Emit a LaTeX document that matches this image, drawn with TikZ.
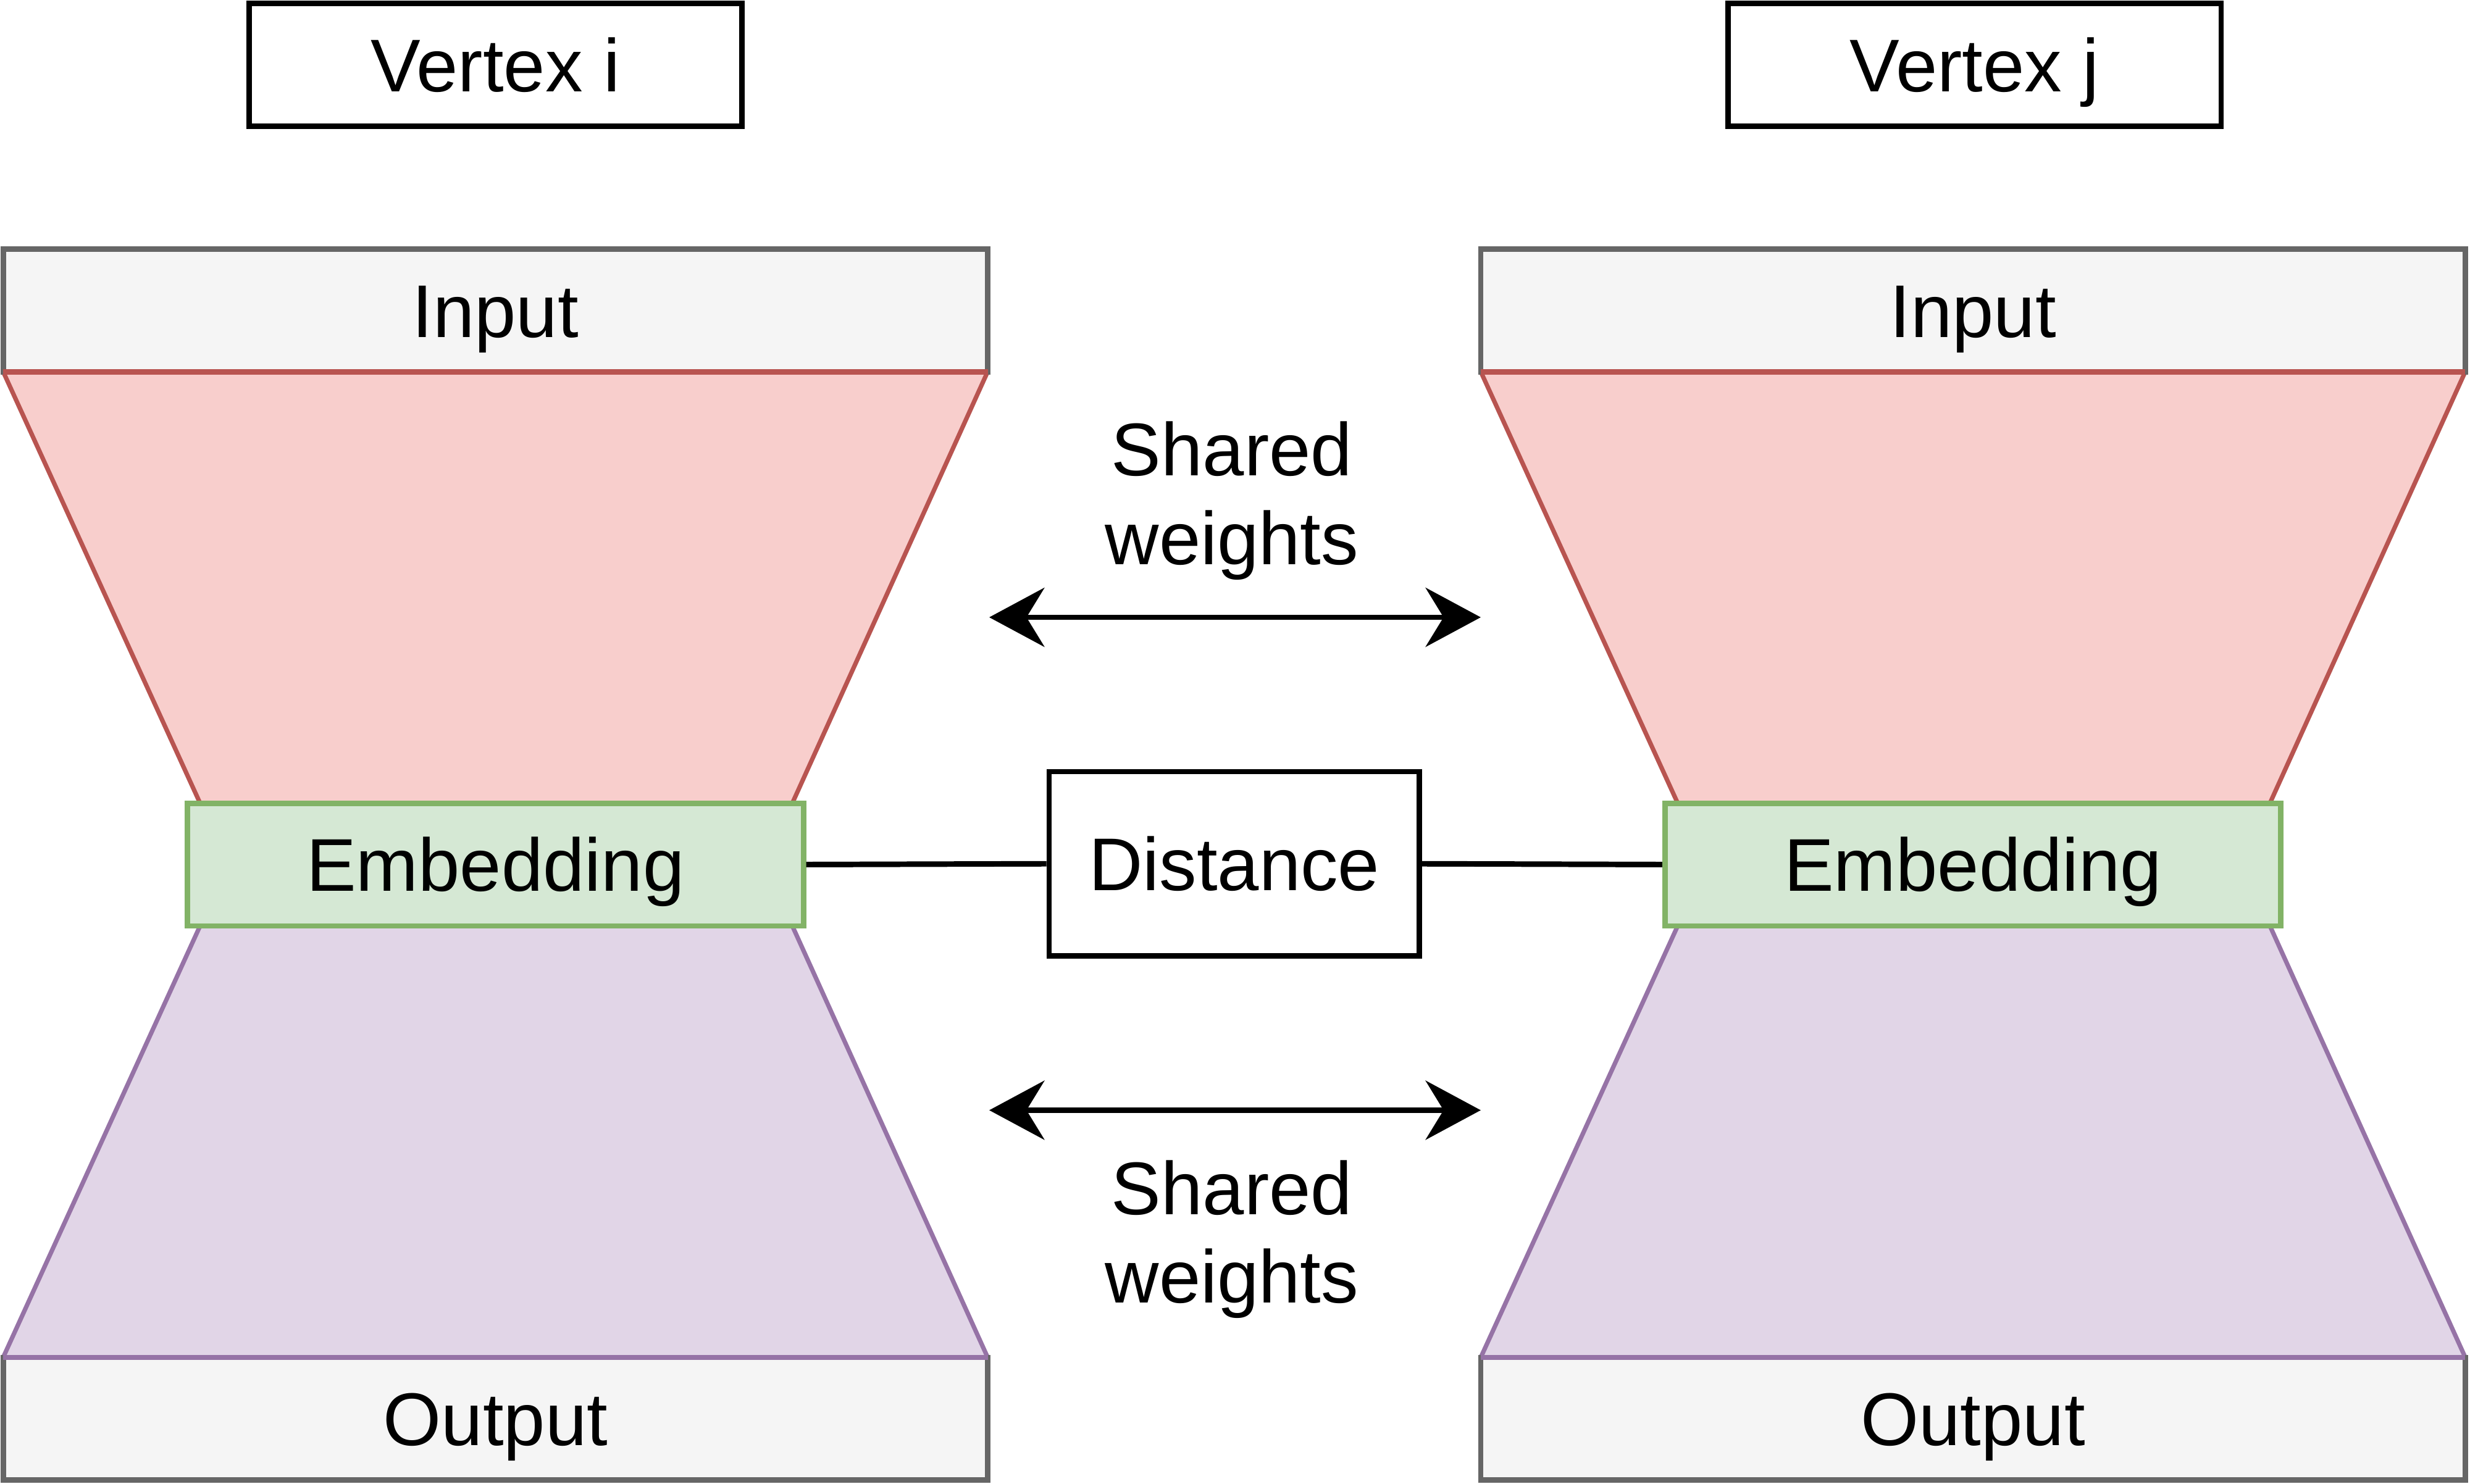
\documentclass[tikz,border=0pt]{standalone}
\usepackage{fontspec}
\setmainfont{Liberation Sans}
\usetikzlibrary{arrows.meta}
\definecolor{gf}{HTML}{F5F5F5}\definecolor{gs}{HTML}{666666}
\definecolor{rf}{HTML}{F8CECC}\definecolor{rs}{HTML}{B85450}
\definecolor{ef}{HTML}{D5E8D4}\definecolor{es}{HTML}{82B366}
\definecolor{pf}{HTML}{E1D5E7}\definecolor{ps}{HTML}{9673A6}
\begin{document}
\begin{tikzpicture}[x=0.02cm,y=-0.02cm,line width=1.6pt,
  txt/.style={font=\fontsize{27}{32}\selectfont},
  box/.style={draw,line width=2pt,txt,inner sep=0pt,text height=24pt,text depth=4.6pt},
  arr/.style={{Stealth[length=0.7cm,width=0.75cm]}-{Stealth[length=0.7cm,width=0.75cm]},line width=2pt}]
\useasboundingbox (0,0) rectangle (1568,942);
\foreach \o in {0,938}{
 \begin{scope}[xshift=\o*0.02cm]
  \fill[rf] (2,236)--(627,236)--(503,510)--(127,510)--cycle;
  \draw[rs] (2,236)--(127,510) (627,236)--(503,510);
  \fill[pf] (127,588)--(503,588)--(627,862)--(2,862)--cycle;
  \draw[ps] (127,588)--(2,862) (503,588)--(627,862);
 \end{scope}}
\node[box,draw=black,minimum width=313*0.02cm,minimum height=78*0.02cm] (vi) at (314.5,41) {Vertex i};
\node[box,draw=black,minimum width=313*0.02cm,minimum height=78*0.02cm] (vj) at (1253.5,41) {Vertex j};
\node[box,draw=gs,fill=gf,minimum width=625*0.02cm,minimum height=78*0.02cm] (ini) at (314.5,197) {Input};
\node[box,draw=gs,fill=gf,minimum width=625*0.02cm,minimum height=78*0.02cm] (inj) at (1252.5,197) {Input};
\draw[rs,line width=2pt] (2,236)--(627,236) (940,236)--(1565,236);
\node[box,draw=es,fill=ef,minimum width=391*0.02cm,minimum height=78*0.02cm] (ei) at (314.5,549) {Embedding};
\node[box,draw=es,fill=ef,minimum width=391*0.02cm,minimum height=78*0.02cm] (ej) at (1252.5,549) {Embedding};
\node[box,draw=gs,fill=gf,minimum width=625*0.02cm,minimum height=78*0.02cm] (oi) at (314.5,901) {Output};
\node[box,draw=gs,fill=gf,minimum width=625*0.02cm,minimum height=78*0.02cm] (oj) at (1252.5,901) {Output};
\draw[ps,line width=2pt] (2,862)--(627,862) (940,862)--(1565,862);
\node[box,draw=black,minimum width=235*0.02cm,minimum height=117*0.02cm] (d) at (783.5,548.5) {Distance};
\draw[line width=2pt] (ei.east)--(d.west) (d.east)--(ej.west);
\coordinate (a1) at (628,392); \coordinate (b1) at (940,392);
\coordinate (a2) at (628,705); \coordinate (b2) at (940,705);
\draw[arr] (a1)--(b1);
\draw[arr] (a2)--(b2);
\node[txt,align=center] (s1) at (782,318) {Shared\\weights};
\node[txt,align=center] (s2) at (782,787) {Shared\\weights};
\end{tikzpicture}
\end{document}
